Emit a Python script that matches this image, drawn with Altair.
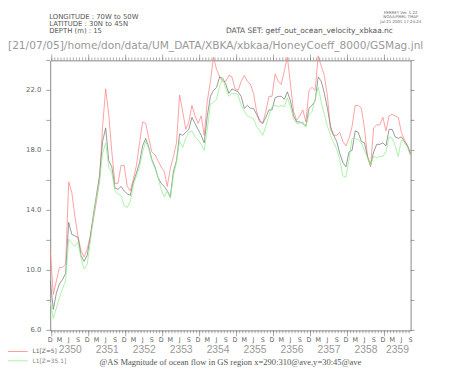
import altair as alt
import pandas as pd

# ---------------- data (monthly, index 0 = Dec 2349 ... 117 = Sep 2359) ----------------
month_index = list(range(118))

red = [11.4, 8.4, 9.3, 10.2, 10.2, 10.4, 15.9, 15.2, 13.6, 12.3,
       11.3, 10.9, 11.4, 12.3, 13.4, 14.6, 16.0, 19.6, 22.1, 20.4,
       17.9, 15.8, 15.8, 17.0, 17.0, 15.6, 15.3, 16.1, 17.0, 18.5,
       19.9, 19.8, 18.8, 17.9, 17.7, 17.3, 16.9, 16.6, 15.6, 16.8,
       17.6, 18.5, 21.7, 20.6, 19.4, 19.9, 21.0, 20.3, 19.8, 20.3,
       19.0, 21.3, 22.6, 24.2, 23.4, 22.9, 22.6, 22.6, 23.0, 22.9,
       22.1, 22.0, 22.6, 23.0, 22.6, 22.4, 21.8, 20.6, 19.9, 19.8,
       20.6, 21.6, 21.6, 23.1, 22.6, 22.4, 23.3, 24.2, 22.4, 20.6,
       20.0, 20.3, 20.7, 19.9, 22.0, 22.2, 22.0, 24.3, 23.6, 23.0,
       21.6, 19.4, 19.0, 19.0, 19.2, 18.6, 18.3, 18.8, 19.6, 21.0,
       21.0, 20.8, 19.5, 17.6, 16.9, 19.5, 19.7, 19.7, 20.2, 19.3,
       20.3, 20.4, 20.3, 20.2, 19.2, 18.7, 18.3, 17.7]

gray = [9.3, 7.4, 8.5, 9.1, 9.4, 9.8, 13.2, 12.4, 12.3, 12.2,
        11.0, 10.6, 11.0, 12.2, 13.7, 15.0, 16.3, 18.6, 19.5, 17.3,
        16.9, 15.5, 15.4, 15.6, 15.3, 15.1, 15.0, 15.9, 16.5, 17.2,
        18.3, 18.8, 18.2, 17.4, 16.9, 16.2, 15.8, 15.6, 15.3, 14.9,
        16.6, 17.3, 19.1, 19.0, 19.2, 19.4, 20.2, 19.8, 19.4, 19.0,
        18.5, 20.3, 21.6, 22.0, 22.2, 22.9, 22.8, 22.4, 21.8, 22.1,
        22.0, 21.9, 21.6, 20.8, 21.0, 20.8, 20.8, 20.4, 20.0, 19.8,
        20.2, 20.7, 20.7, 21.5, 21.6, 21.6, 21.4, 21.9, 21.3, 20.3,
        19.9, 19.9, 19.8, 19.6, 20.8, 21.0, 21.3, 22.9, 22.6, 21.8,
        20.8, 19.6, 19.0, 18.6, 17.8, 17.2, 16.9, 17.9, 18.0, 19.3,
        19.2, 18.6, 18.5, 17.6, 17.0, 17.9, 18.4, 18.4, 18.5, 18.3,
        19.4, 19.4, 18.9, 18.8, 18.9, 18.6, 18.3, 17.8]

green = [7.9, 6.8, 7.5, 8.2, 8.8, 9.3, 12.1, 11.8, 11.6, 11.9,
         10.8, 10.1, 10.4, 11.9, 13.5, 14.8, 15.9, 17.8, 18.5, 16.9,
         16.5, 15.3, 15.1, 15.0, 14.3, 14.2, 14.6, 15.7, 16.3, 16.9,
         17.9, 18.6, 18.1, 17.3, 16.8, 16.2, 15.4, 14.9, 15.3, 14.8,
         16.3, 17.2, 18.6, 18.2, 18.8, 19.2, 19.3, 18.9, 18.7, 18.4,
         18.0, 19.4, 21.1, 21.2, 21.4, 22.3, 22.8, 22.1, 21.6, 21.8,
         21.8, 21.7, 21.0, 20.6, 20.3, 20.2, 20.1, 19.6, 19.3, 19.0,
         19.6, 20.3, 20.9, 21.0, 20.9, 21.0, 20.9, 21.5, 20.9, 20.1,
         19.8, 19.8, 19.9, 19.6, 20.4, 20.6, 21.4, 22.2, 21.2, 20.4,
         19.6, 19.0, 18.5, 18.1, 17.4, 16.3, 16.2, 17.4, 18.8, 18.8,
         18.7, 18.5, 18.0, 17.5, 17.0, 17.6, 17.5, 17.6, 17.6, 17.9,
         18.9, 18.8, 18.3, 17.6, 18.7, 18.5, 18.2, 17.6]

series_names = ["L1[Z=5]", "L1", "L1[Z=35.1]"]
series_colors = ["#ff8282", "#777777", "#8cf08c"]

y_ticks = [6, 8, 10, 12, 14, 16, 18, 20, 22, 24]
y_labels = [6, 10, 14, 18, 22]
month_letters = ["D", "M", "J", "S"]
years = [2350, 2351, 2352, 2353, 2354, 2355, 2356, 2357, 2358, 2359]

# ---------------- tables built from the arrays ----------------
n = len(month_index)
df = pd.DataFrame({
    "i": month_index * 3,
    "v": red + gray + green,
    "s": [series_names[0]] * n + [series_names[1]] * n + [series_names[2]] * n,
    "o": [0] * n + [1] * n + [2] * n,
})

last = month_index[-1]
label_idx = [k for k in month_index if k % 3 == 0]
df_months = pd.DataFrame({"i": label_idx,
                          "lab": [month_letters[(k // 3) % 4] for k in label_idx]})
year_start = [0.5 + 12 * (y - years[0]) for y in years]
year_end = [min(s + 12, last) for s in year_start]
df_years = pd.DataFrame({"i": [(a + b) / 2 for a, b in zip(year_start, year_end)],
                         "lab": [str(y) for y in years]})
df_mticks = pd.DataFrame({"m": [k + 0.5 for k in month_index[:-1]]})
df_yticks = pd.DataFrame({"m": year_start})
df_vticks = pd.DataFrame({"yt": y_ticks})
df_vlabels = pd.DataFrame({"yt": y_labels, "lab": [f"{v:.1f}" for v in y_labels]})

W, H = 367, 275
xscale = alt.Scale(domain=[0, last], nice=False, zero=False)
yscale = alt.Scale(domain=[6, 24], nice=False, zero=False)
AX = "#777777"

lines = alt.Chart(df).mark_line(strokeWidth=0.75).encode(
    x=alt.X("i:Q", scale=xscale, axis=None),
    y=alt.Y("v:Q", scale=yscale, axis=None),
    color=alt.Color("s:N", scale=alt.Scale(domain=series_names, range=series_colors), legend=None),
    order="o:Q",
    detail="s:N",
)


def xtick_layer(data, y0, y1):
    return alt.Chart(data).mark_rule(color=AX, strokeWidth=0.6).encode(
        x=alt.X("m:Q", scale=xscale, axis=None), y=alt.value(y0), y2=alt.value(y1))


def ytick_layer(x0, x1):
    return alt.Chart(df_vticks).mark_rule(color=AX, strokeWidth=0.7).encode(
        y=alt.Y("yt:Q", scale=yscale, axis=None), x=alt.value(x0), x2=alt.value(x1))


ticks = [
    xtick_layer(df_mticks, H, H + 3), xtick_layer(df_mticks, 0, -3),
    xtick_layer(df_yticks, H, H + 6), xtick_layer(df_yticks, 0, -6),
    ytick_layer(-4, 0), ytick_layer(W, W + 4),
]

y_text = alt.Chart(df_vlabels).mark_text(
    font="DejaVu Sans", fontSize=7, color="#666666", align="right", baseline="middle").encode(
    y=alt.Y("yt:Q", scale=yscale, axis=None), x=alt.value(-9), text="lab:N")
month_text = alt.Chart(df_months).mark_text(
    font="DejaVu Sans", fontSize=6.5, color="#666666", baseline="middle").encode(
    x=alt.X("i:Q", scale=xscale, axis=None), y=alt.value(285), text="lab:N")
year_text = alt.Chart(df_years).mark_text(
    font="Liberation Sans", fontSize=10.5, color="#999999", baseline="middle").encode(
    x=alt.X("i:Q", scale=xscale, axis=None), y=alt.value(295.5), text="lab:N")


def txt(s, x, y, size, color="#555555", font="DejaVu Sans", align="left"):
    return alt.Chart(pd.DataFrame({"t": [s]})).mark_text(
        align=align, baseline="middle", fontSize=size, font=font, color=color).encode(
        x=alt.value(x), y=alt.value(y), text="t:N")


texts = [
    txt("FERRET Ver. 5.22", 357, -48.6, 4, "#666666", align="center"),
    txt("NOAA/PMEL TMAP", 357, -43.9, 4, "#666666", align="center"),
    txt("Jul 21 2005 17:24:24", 357, -39.2, 4, "#666666", align="center"),
    txt("LONGITUDE : 70W to 50W", -1, -44.5, 7),
    txt("LATITUDE : 30N to 45N", -1, -37.3, 7),
    txt("DEPTH (m) : 15", -1, -29.7, 7),
    txt("DATA SET: getf_out_ocean_velocity_xbkaa.nc", 179, -29.7, 7.6),
    txt("[21/07/05]/home/don/data/UM_DATA/XBKA/xbkaa/HoneyCoeff_8000/GSMag.jnl",
        -43, -14.5, 10.8, "#999999"),
    txt(series_names[0], -18, 296.5, 6, "#666666"),
    txt(series_names[2], -18, 305.8, 6, "#888888"),
    txt("@AS Magnitude of ocean flow in GS region x=290:310@ave,y=30:45@ave",
        183.5, 307.5, 8.7, "#555555", font="Liberation Serif", align="center"),
]
legend_lines = [
    alt.Chart(pd.DataFrame({"s": [series_names[0]]})).mark_rule(
        color=series_colors[0], strokeWidth=0.8).encode(
        x=alt.value(-51), x2=alt.value(-23), y=alt.value(296.5)),
    alt.Chart(pd.DataFrame({"s": [series_names[2]]})).mark_rule(
        color=series_colors[2], strokeWidth=0.8).encode(
        x=alt.value(-51), x2=alt.value(-23), y=alt.value(306)),
]

chart = alt.layer(lines, *ticks, y_text, month_text, year_text, *texts, *legend_lines).properties(
    width=W, height=H,
    padding={"left": 43, "top": 50, "right": 34, "bottom": 37},
    autosize=alt.AutoSizeParams(type="none"),
    background="white",
).configure_view(stroke="#888888", strokeWidth=1)

chart.save("out.html", embed_options={"renderer": "svg", "actions": False})
